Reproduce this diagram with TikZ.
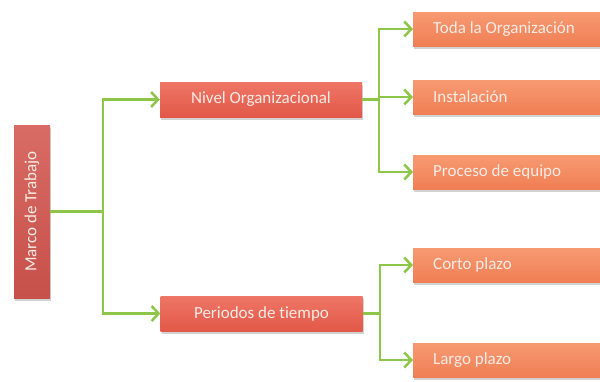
\documentclass[tikz,border=0pt]{standalone}
\usepackage{fontspec}
\setmainfont{Carlito}[Ligatures=NoCommon]
\usetikzlibrary{arrows.meta,shadows}
\definecolor{gline}{RGB}{141,198,73}
\definecolor{orTop}{RGB}{247,154,114}
\definecolor{orBot}{RGB}{240,126,84}
\definecolor{rdTop}{RGB}{238,118,102}
\definecolor{rdBot}{RGB}{226,88,72}
\definecolor{mkTop}{RGB}{216,108,100}
\definecolor{mkBot}{RGB}{198,80,74}
\definecolor{txt}{RGB}{246,236,230}
\newcommand{\leaftext}[1]{\hbox to 147pt{#1\hfil}}
\tikzset{
  boxbase/.style={inner sep=0pt, text=txt, font=\fontsize{17}{19}\selectfont,
    drop shadow={opacity=0.35, shadow xshift=1pt, shadow yshift=-2.5pt}},
  midbox/.style={boxbase, minimum width=202pt, minimum height=35pt, top color=rdTop, bottom color=rdBot},
  leafbox/.style={boxbase, anchor=west, minimum height=34pt, inner xsep=20pt, top color=orTop, bottom color=orBot},
  rootbox/.style={boxbase, rotate=90, minimum width=173pt, minimum height=36pt, top color=mkTop, bottom color=mkBot},
  link/.style={draw=gline, line width=2.5pt},
  arr/.style={link, -{Straight Barb[length=7pt,width=15pt,line width=2.5pt]}}
}
\begin{document}
\begin{tikzpicture}[x=1pt,y=-1pt]
\useasboundingbox (0,0) rectangle (600,381);
\fill[white] (0,0) rectangle (600,381);
% nodes
\node[rootbox] (marco) at (32,211.5) {Marco de Trabajo};
\node[midbox] (nivel) at (261,99.5) {Nivel Organizacional};
\node[midbox] (per) at (261.5,313.5) {Periodos de t\kern0pt iempo};
\node[leafbox] (toda) at (413,29) {\leaftext{Toda la Organización}};
\node[leafbox] (inst) at (413,97) {\leaftext{Instalación}};
\node[leafbox] (proc) at (413,172) {\leaftext{Proceso de equipo}};
\node[leafbox] (corto) at (413,265) {\leaftext{Corto plazo}};
\node[leafbox] (largo) at (413,360) {\leaftext{Largo plazo}};
% junctions
\coordinate (j1) at (103,211.5);
\coordinate (j2) at (379,99.5);
\coordinate (j3) at (380,313.5);
% connectors
\draw[link] (marco.south) -- (j1);
\draw[arr] (j1) |- (nivel.west);
\draw[arr] (j1) |- (per.west);
\draw[link] (nivel.east) -- (j2);
\draw[arr] (j2) |- (toda.west);
\draw[arr] (j2) |- (inst.west);
\draw[arr] (j2) |- (proc.west);
\draw[link] (per.east) -- (j3);
\draw[arr] (j3) |- (corto.west);
\draw[arr] (j3) |- (largo.west);
\end{tikzpicture}
\end{document}
